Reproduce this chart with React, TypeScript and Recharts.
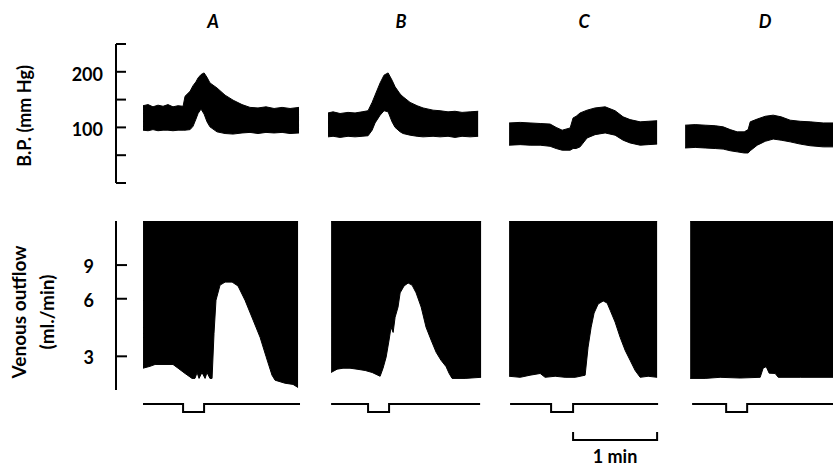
import React from 'react';
import { ComposedChart, Area, Line, XAxis, YAxis } from 'recharts';

const W = 833;
const T_MAX = 512; // seconds across the whole strip

const titles = ['A', 'B', 'C', 'D'];

// blood pressure band: [time s, diastolic, systolic] (mm Hg)
const bpA = [
  [19.3, 95, 139], [22.9, 94, 141], [26.4, 96, 137], [30, 94, 140], [33.6, 95, 138], [37.1, 95, 141],
  [40.7, 94, 137], [44.3, 95, 139], [47.9, 95, 138], [49.3, 95, 156], [52.9, 96, 165], [55, 102, 175],
  [57.1, 115, 182], [58.6, 125, 189], [60.7, 133, 195], [62.9, 124, 198], [65, 110, 190], [67.1, 101, 180],
  [72.1, 92, 171], [77.9, 89, 158], [83.6, 88, 149], [90, 90, 141], [95.7, 91, 136], [101.4, 89, 135],
  [107.1, 91, 137], [112.9, 90, 134], [118.6, 91, 136], [124.3, 89, 134], [130.7, 90, 136],
];
const bpB = [
  [151.4, 83, 126], [155, 84, 128], [160, 82, 125], [165.7, 84, 127], [170.7, 83, 126], [175.7, 84, 128],
  [180, 85, 130], [182.9, 95, 145], [185, 108, 158], [188.6, 122, 180], [191.4, 130, 194], [194.3, 128, 198],
  [197.1, 110, 185], [199.3, 100, 173], [202.9, 92, 160], [205, 89, 155], [210, 86, 145], [215, 84, 139],
  [219.3, 83, 135], [226.4, 84, 131], [231.4, 83, 130], [237.1, 84, 128], [242.1, 82, 129], [247.1, 84, 127],
  [252.9, 83, 128], [258.6, 84, 129],
];
const bpC = [
  [280.7, 68, 108], [288.6, 69, 109], [295.7, 68, 108], [302.9, 68, 107], [310, 66, 106], [314.3, 62, 100],
  [318.6, 59, 95], [324.3, 59, 99], [326.4, 62, 117], [328.6, 62, 120], [331.4, 65, 126], [336.4, 81, 131],
  [342.1, 87, 135], [349.3, 90, 137], [356.4, 86, 130], [362.1, 77, 119], [367.1, 72, 114], [374.3, 68, 110],
  [380, 69, 111], [386.4, 70, 112],
];
const bpD = [
  [406.4, 63, 104], [413.6, 64, 105], [420.7, 63, 104], [427.9, 62, 103], [433.6, 61, 101], [438.6, 58, 96],
  [443.6, 56, 92], [448.6, 54, 92], [451.4, 54, 96], [452.9, 58, 110], [457.9, 68, 115], [463.6, 75, 120],
  [469.3, 79, 122], [475, 77, 119], [481.4, 74, 113], [488.6, 70, 111], [495.7, 67, 110], [505, 65, 108],
  [512, 65, 108],
];

// venous outflow: [time s, ml/min] (black fills from top of record down to trace)
const flowA = [
  [19.3, 2.6], [24.3, 2.66], [27.9, 2.72], [35, 2.72], [40.7, 2.72], [44.3, 2.6], [49.3, 2.44], [54.3, 2.3],
  [56.4, 2.3], [57.9, 2.47], [59.3, 2.3], [61.4, 2.47], [63.6, 2.3], [65, 2.47], [67.1, 2.3], [68.6, 2.3],
  [70, 3.96], [71.4, 5.9], [74.3, 7.07], [77.9, 7.33], [82.9, 7.33], [87.1, 7.0], [92.1, 5.9], [97.9, 4.64],
  [102.9, 3.77], [107.1, 3.0], [111.4, 2.39], [113.6, 2.25], [120.7, 2.17], [126.4, 2.14], [130, 2.06],
];
const flowB = [
  [153.6, 2.47], [157.9, 2.57], [162.1, 2.6], [167.1, 2.6], [172.1, 2.57], [177.9, 2.53], [182.9, 2.47],
  [188.6, 2.36], [190.7, 2.6], [192.9, 2.97], [195, 3.65], [196.4, 4.26], [197.9, 4.0], [199.3, 4.8],
  [201.4, 5.43], [202.9, 6.44], [205.7, 7.0], [208.6, 7.25], [211.4, 7.07], [214.3, 6.44], [217.9, 5.43],
  [221.4, 4.26], [225, 3.65], [228.6, 3.15], [232.1, 2.86], [235.7, 2.65], [237.9, 2.44], [240, 2.3],
  [249.3, 2.3], [260.7, 2.33],
];
const flowC = [
  [280.7, 2.36], [288.6, 2.33], [295.7, 2.39], [302.9, 2.44], [306.4, 2.33], [313.6, 2.36], [320.7, 2.33],
  [327.9, 2.33], [335, 2.39], [337.1, 3.35], [339.3, 4.26], [341.4, 5.05], [344.3, 5.63], [347.9, 5.84],
  [350.7, 5.7], [352.9, 5.22], [356.4, 4.53], [360, 3.77], [363.6, 3.22], [367.1, 2.86], [370.7, 2.53],
  [374.3, 2.33], [380, 2.36], [386.4, 2.33],
];
const flowD = [
  [410, 2.3], [420.7, 2.3], [431.4, 2.33], [445.7, 2.31], [460, 2.33], [462.1, 2.6], [464.3, 2.65],
  [466.4, 2.45], [470.7, 2.44], [472.9, 2.33], [488.6, 2.33], [512, 2.33],
];
const FLOW_TOP = 15.3;

// stimulus signal per panel: [trace start, stim on, stim off, trace end]
const stimA = [19.3, 47.9, 62.9, 131.4];
const stimB = [153.6, 180, 195, 260];
const stimC = [281.4, 310.7, 326.4, 387.1];
const stimD = [411.4, 435.7, 450.7, 512];

const scaleBar = [326.4, 386.4]; // 1 min

const bpTicks = [0, 50, 100, 150, 200, 250];
const bpLabelled = [100, 200];
const flowTicks = [3, 6, 9];

const FONT = 'Lato, "Liberation Sans", Arial, sans-serif';

const withGaps = (panels: number[][][], toRow: (p: number[]) => any, key: string) =>
  panels.flatMap((p, i) => {
    const rows = p.map(toRow);
    return i < panels.length - 1 ? [...rows, { t: p[p.length - 1][0] + 1, [key]: null }] : rows;
  });

const bpData = withGaps([bpA, bpB, bpC, bpD], ([t, dia, sys]) => ({ t, bp: [dia, sys] }), 'bp');
const flowData = withGaps([flowA, flowB, flowC, flowD], ([t, v]) => ({ t, flow: [v, FLOW_TOP] }), 'flow');
const stimData = [stimA, stimB, stimC, stimD].flatMap(([s, on, off, e], i) => {
  const rows: any[] = [{ t: s, stim: 1 }, { t: on, stim: 0 }, { t: off, stim: 1 }, { t: e, stim: 1 }];
  if (i < 3) rows.push({ t: e + 1, stim: null });
  return rows;
});
const barData = [
  { t: scaleBar[0], v: 1 }, { t: scaleBar[0], v: 0 }, { t: scaleBar[1], v: 0 }, { t: scaleBar[1], v: 1 },
];

const BpTick = (props: any) => {
  const { x, y, payload } = props;
  return (
    <g>
      <line x1={x} x2={x + 10} y1={y} y2={y} stroke="#000" strokeWidth={2} />
      {bpLabelled.includes(payload.value) && (
        <text x={x - 13} y={y + 2} textAnchor="end" dominantBaseline="central"
          fontFamily={FONT} fontWeight={700} fontSize={18} fill="#000">{payload.value}</text>
      )}
    </g>
  );
};

const FlowTick = (props: any) => {
  const { x, y, payload } = props;
  return (
    <g>
      <line x1={x} x2={x + 11} y1={y} y2={y} stroke="#000" strokeWidth={2} />
      <text x={x - 22} y={y + 1} textAnchor="end" dominantBaseline="central"
        fontFamily={FONT} fontWeight={700} fontSize={18} fill="#000">{payload.value}</text>
    </g>
  );
};

const xAxis = <XAxis dataKey="t" type="number" domain={[0, T_MAX]} allowDataOverflow hide />;

export default function App() {
  const abs = (top: number): React.CSSProperties => ({ position: 'absolute', left: 0, top });
  return (
    <div style={{ position: 'absolute', left: 0, top: 0, width: W, height: 467, background: '#fff', overflow: 'hidden' }}>
      {/* blood pressure */}
      <div style={abs(0)}>
        <ComposedChart width={W} height={200} data={bpData} margin={{ top: 44, right: 0, bottom: 17, left: 0 }}>
          {xAxis}
          <YAxis type="number" domain={[0, 250]} ticks={bpTicks} interval={0} width={116}
            tickSize={0} tickMargin={0} tickLine={false}
            axisLine={{ stroke: '#000', strokeWidth: 2 }} tick={BpTick} />
          <Area dataKey="bp" type="linear" stroke="#000" strokeWidth={1} fill="#000" fillOpacity={1}
            dot={false} activeDot={false} isAnimationActive={false} />
        </ComposedChart>
      </div>

      {/* venous outflow */}
      <div style={abs(200)}>
        <ComposedChart width={W} height={220} data={flowData} margin={{ top: 21, right: 0, bottom: 30, left: 0 }}>
          {xAxis}
          <YAxis type="number" scale="log" domain={[2, FLOW_TOP]} allowDataOverflow ticks={flowTicks}
            interval={0} width={116} tickSize={0} tickMargin={0} tickLine={false}
            axisLine={{ stroke: '#000', strokeWidth: 2 }} tick={FlowTick} />
          <Area dataKey="flow" type="linear" stroke="#000" strokeWidth={1} fill="#000" fillOpacity={1}
            dot={false} activeDot={false} isAnimationActive={false} />
        </ComposedChart>
      </div>

      {/* stimulus signal */}
      <div style={abs(396)}>
        <ComposedChart width={W} height={24} data={stimData} margin={{ top: 8, right: 0, bottom: 8, left: 116 }}>
          {xAxis}
          <YAxis type="number" domain={[0, 1]} hide />
          <Line dataKey="stim" type="stepAfter" stroke="#000" strokeWidth={2} dot={false}
            activeDot={false} isAnimationActive={false} />
        </ComposedChart>
      </div>

      {/* time scale */}
      <div style={abs(425)}>
        <ComposedChart width={W} height={20} data={barData} margin={{ top: 7, right: 0, bottom: 5, left: 116 }}>
          {xAxis}
          <YAxis type="number" domain={[0, 1]} hide />
          <Line dataKey="v" type="linear" stroke="#000" strokeWidth={2} dot={false}
            activeDot={false} isAnimationActive={false} />
        </ComposedChart>
      </div>

      <svg width={W} height={467} style={{ position: 'absolute', left: 0, top: 0, pointerEvents: 'none' }}>
        {titles.map((t, i) => (
          <text key={t} x={[213, 401, 584, 765][i]} y={28} textAnchor="middle" fontFamily={FONT}
            fontWeight={700} fontStyle="italic" fontSize={18}>{t}</text>
        ))}
        <text transform="translate(31,116) rotate(-90)" textAnchor="middle" fontFamily={FONT}
          fontWeight={700} fontSize={18}>B.P. (mm Hg)</text>
        <text transform="translate(26,312) rotate(-90)" textAnchor="middle" fontFamily={FONT}
          fontWeight={700} fontSize={19}>Venous outflow</text>
        <text transform="translate(54,312) rotate(-90)" textAnchor="middle" fontFamily={FONT}
          fontWeight={700} fontSize={19}>(ml./min)</text>
        <text x={615} y={463} textAnchor="middle" fontFamily={FONT} fontWeight={700} fontSize={18}>1 min</text>
      </svg>
    </div>
  );
}
